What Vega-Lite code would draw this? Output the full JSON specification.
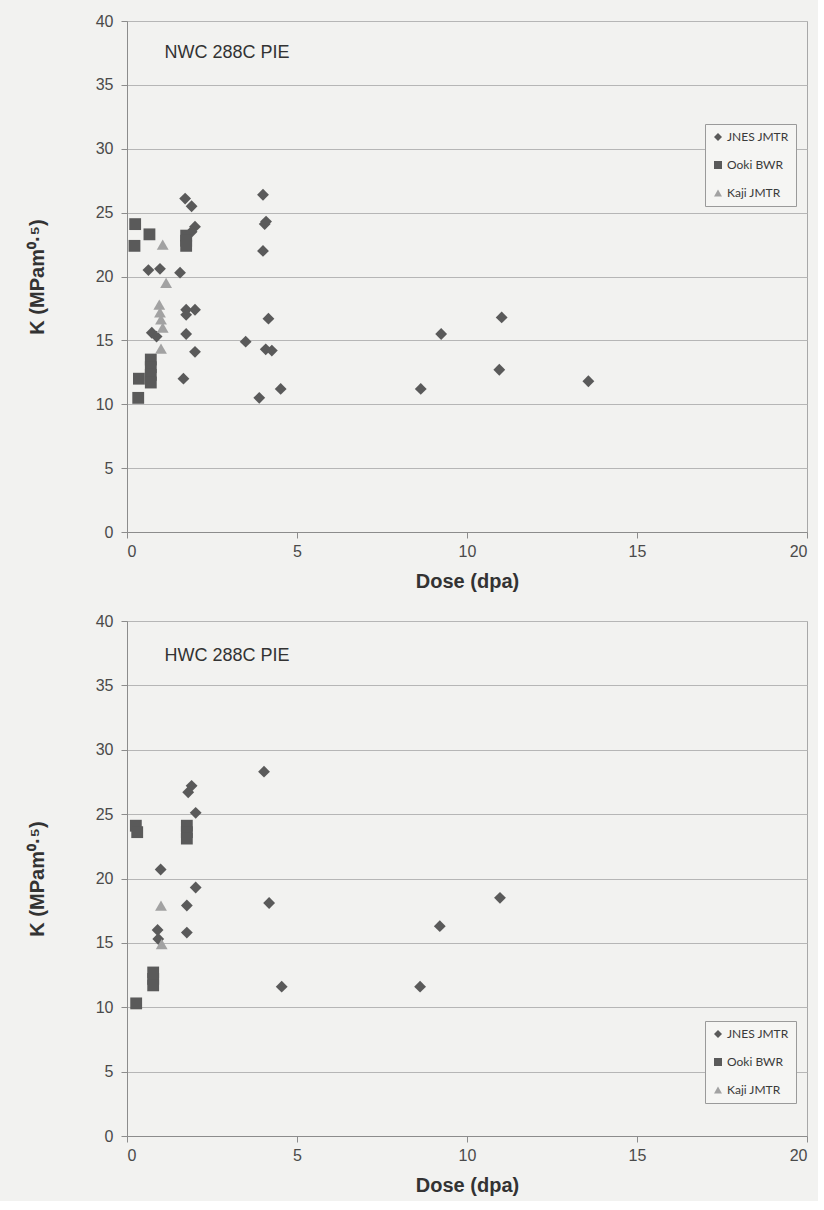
{
  "$schema": "https://vega.github.io/schema/vega-lite/v6.json",
  "background": "#f2f2f0",
  "padding": {"left": 26, "top": 12, "right": 10, "bottom": 5},
  "spacing": 20,
  "config": {
    "font": "Liberation Sans",
    "view": {"stroke": "#a8a8a8", "strokeWidth": 1},
    "axis": {
      "labelFont": "Liberation Sans", "labelFontSize": 16, "labelColor": "#4a4a4a",
      "titleFont": "Liberation Sans", "titleFontSize": 20, "titleFontWeight": "bold", "titleColor": "#333333",
      "domainColor": "#8c8c8c", "tickColor": "#8c8c8c", "gridColor": "#b6b6b6", "tickSize": 6
    },
    "legend": {
      "labelFont": "Lato", "labelFontSize": 12, "labelColor": "#3a3a3a",
      "strokeColor": "#9a9a9a", "fillColor": "#f5f5f3", "padding": 7, "rowPadding": 16,
      "symbolStrokeWidth": 0, "symbolSize": 64, "labelOffset": 3
    }
  },
  "datasets": {
    "nwc": [
      {"series": "JNES JMTR", "dose": 1.71, "k": 26.1},
      {"series": "JNES JMTR", "dose": 1.9, "k": 25.5},
      {"series": "JNES JMTR", "dose": 4.0, "k": 26.4},
      {"series": "JNES JMTR", "dose": 2.0, "k": 23.9},
      {"series": "JNES JMTR", "dose": 1.9, "k": 23.5},
      {"series": "JNES JMTR", "dose": 4.09, "k": 24.3},
      {"series": "JNES JMTR", "dose": 4.05, "k": 24.1},
      {"series": "JNES JMTR", "dose": 4.0, "k": 22.0},
      {"series": "JNES JMTR", "dose": 0.63, "k": 20.5},
      {"series": "JNES JMTR", "dose": 0.97, "k": 20.6},
      {"series": "JNES JMTR", "dose": 1.56, "k": 20.3},
      {"series": "JNES JMTR", "dose": 1.74, "k": 17.4},
      {"series": "JNES JMTR", "dose": 2.0, "k": 17.4},
      {"series": "JNES JMTR", "dose": 1.74, "k": 17.0},
      {"series": "JNES JMTR", "dose": 4.16, "k": 16.7},
      {"series": "JNES JMTR", "dose": 0.73, "k": 15.6},
      {"series": "JNES JMTR", "dose": 0.87, "k": 15.3},
      {"series": "JNES JMTR", "dose": 1.74, "k": 15.5},
      {"series": "JNES JMTR", "dose": 3.49, "k": 14.9},
      {"series": "JNES JMTR", "dose": 2.0, "k": 14.1},
      {"series": "JNES JMTR", "dose": 4.08, "k": 14.3},
      {"series": "JNES JMTR", "dose": 4.26, "k": 14.2},
      {"series": "JNES JMTR", "dose": 1.66, "k": 12.0},
      {"series": "JNES JMTR", "dose": 4.52, "k": 11.2},
      {"series": "JNES JMTR", "dose": 3.89, "k": 10.5},
      {"series": "JNES JMTR", "dose": 11.02, "k": 16.8},
      {"series": "JNES JMTR", "dose": 9.24, "k": 15.5},
      {"series": "JNES JMTR", "dose": 10.95, "k": 12.7},
      {"series": "JNES JMTR", "dose": 8.64, "k": 11.2},
      {"series": "JNES JMTR", "dose": 13.57, "k": 11.8},
      {"series": "Ooki BWR", "dose": 0.24, "k": 24.1},
      {"series": "Ooki BWR", "dose": 0.22, "k": 22.4},
      {"series": "Ooki BWR", "dose": 0.66, "k": 23.3},
      {"series": "Ooki BWR", "dose": 1.74, "k": 23.2},
      {"series": "Ooki BWR", "dose": 1.74, "k": 22.8},
      {"series": "Ooki BWR", "dose": 1.74, "k": 22.4},
      {"series": "Ooki BWR", "dose": 0.7, "k": 13.5},
      {"series": "Ooki BWR", "dose": 0.7, "k": 12.9},
      {"series": "Ooki BWR", "dose": 0.7, "k": 12.3},
      {"series": "Ooki BWR", "dose": 0.7, "k": 11.7},
      {"series": "Ooki BWR", "dose": 0.35, "k": 12.0},
      {"series": "Ooki BWR", "dose": 0.33, "k": 10.5},
      {"series": "Kaji JMTR", "dose": 1.05, "k": 22.5},
      {"series": "Kaji JMTR", "dose": 1.15, "k": 19.5},
      {"series": "Kaji JMTR", "dose": 0.95, "k": 17.8},
      {"series": "Kaji JMTR", "dose": 0.97, "k": 17.2},
      {"series": "Kaji JMTR", "dose": 1.0, "k": 16.65},
      {"series": "Kaji JMTR", "dose": 1.05, "k": 16.0},
      {"series": "Kaji JMTR", "dose": 1.0, "k": 14.35}
    ],
    "hwc": [
      {"series": "JNES JMTR", "dose": 4.03, "k": 28.3},
      {"series": "JNES JMTR", "dose": 1.9, "k": 27.2},
      {"series": "JNES JMTR", "dose": 1.8, "k": 26.7},
      {"series": "JNES JMTR", "dose": 2.02, "k": 25.1},
      {"series": "JNES JMTR", "dose": 0.99, "k": 20.7},
      {"series": "JNES JMTR", "dose": 2.02, "k": 19.3},
      {"series": "JNES JMTR", "dose": 1.76, "k": 17.9},
      {"series": "JNES JMTR", "dose": 4.18, "k": 18.1},
      {"series": "JNES JMTR", "dose": 0.9, "k": 16.0},
      {"series": "JNES JMTR", "dose": 0.92, "k": 15.3},
      {"series": "JNES JMTR", "dose": 1.76, "k": 15.8},
      {"series": "JNES JMTR", "dose": 4.55, "k": 11.6},
      {"series": "JNES JMTR", "dose": 9.2, "k": 16.3},
      {"series": "JNES JMTR", "dose": 10.97, "k": 18.5},
      {"series": "JNES JMTR", "dose": 8.62, "k": 11.6},
      {"series": "Ooki BWR", "dose": 0.26, "k": 24.1},
      {"series": "Ooki BWR", "dose": 0.3, "k": 23.6},
      {"series": "Ooki BWR", "dose": 1.76, "k": 24.1},
      {"series": "Ooki BWR", "dose": 1.76, "k": 23.6},
      {"series": "Ooki BWR", "dose": 1.76, "k": 23.1},
      {"series": "Ooki BWR", "dose": 0.77, "k": 12.7},
      {"series": "Ooki BWR", "dose": 0.77, "k": 12.2},
      {"series": "Ooki BWR", "dose": 0.77, "k": 11.7},
      {"series": "Ooki BWR", "dose": 0.27, "k": 10.3},
      {"series": "Kaji JMTR", "dose": 1.0, "k": 17.9},
      {"series": "Kaji JMTR", "dose": 1.02, "k": 14.9}
    ]
  },
  "vconcat": [
    {
      "width": 680, "height": 511,
      "layer": [
        {
          "data": {"values": [{"label": "NWC 288C PIE"}]},
          "mark": {"type": "text", "align": "left", "baseline": "middle", "fontSize": 18, "color": "#333333", "font": "Liberation Sans"},
          "encoding": {"x": {"datum": 1.1}, "y": {"datum": 37.5}, "text": {"field": "label"}}
        },
        {
          "data": {"name": "nwc"},
          "mark": {"type": "point", "filled": true, "opacity": 1, "strokeWidth": 0, "size": 140},
          "encoding": {
            "x": {"field": "dose", "type": "quantitative", "scale": {"domain": [0, 20]},
                  "axis": {"title": "Dose (dpa)", "values": [0, 5, 10, 15, 20], "grid": false, "labelPadding": 5, "titlePadding": 12}},
            "y": {"field": "k", "type": "quantitative", "scale": {"domain": [0, 40]},
                  "axis": {"title": "K (MPam\u2070\u00b7\u2075)", "values": [0, 5, 10, 15, 20, 25, 30, 35, 40], "grid": true, "labelPadding": 8, "titlePadding": 48}},
            "shape": {"field": "series", "type": "nominal", "scale": {"domain": ["JNES JMTR", "Ooki BWR", "Kaji JMTR"], "range": ["diamond", "square", "triangle-up"]},
                      "legend": {"title": null, "orient": "none", "legendX": 578, "legendY": 103}},
            "color": {"field": "series", "type": "nominal", "scale": {"domain": ["JNES JMTR", "Ooki BWR", "Kaji JMTR"], "range": ["#5a5a5a", "#5a5a5a", "#a2a2a2"]},
                      "legend": {"title": null, "orient": "none", "legendX": 578, "legendY": 103}}
          }
        }
      ]
    },
    {
      "width": 680, "height": 515,
      "layer": [
        {
          "data": {"values": [{"label": "HWC 288C PIE"}]},
          "mark": {"type": "text", "align": "left", "baseline": "middle", "fontSize": 18, "color": "#333333", "font": "Liberation Sans"},
          "encoding": {"x": {"datum": 1.1}, "y": {"datum": 37.3}, "text": {"field": "label"}}
        },
        {
          "data": {"name": "hwc"},
          "mark": {"type": "point", "filled": true, "opacity": 1, "strokeWidth": 0, "size": 140},
          "encoding": {
            "x": {"field": "dose", "type": "quantitative", "scale": {"domain": [0, 20]},
                  "axis": {"title": "Dose (dpa)", "values": [0, 5, 10, 15, 20], "grid": false, "labelPadding": 5, "titlePadding": 12}},
            "y": {"field": "k", "type": "quantitative", "scale": {"domain": [0, 40]},
                  "axis": {"title": "K (MPam\u2070\u00b7\u2075)", "values": [0, 5, 10, 15, 20, 25, 30, 35, 40], "grid": true, "labelPadding": 8, "titlePadding": 48}},
            "shape": {"field": "series", "type": "nominal", "scale": {"domain": ["JNES JMTR", "Ooki BWR", "Kaji JMTR"], "range": ["diamond", "square", "triangle-up"]},
                      "legend": {"title": null, "orient": "none", "legendX": 578, "legendY": 400}},
            "color": {"field": "series", "type": "nominal", "scale": {"domain": ["JNES JMTR", "Ooki BWR", "Kaji JMTR"], "range": ["#5a5a5a", "#5a5a5a", "#a2a2a2"]},
                      "legend": {"title": null, "orient": "none", "legendX": 578, "legendY": 400}}
          }
        }
      ]
    }
  ],
  "resolve": {"scale": {"shape": "independent", "color": "independent"}, "legend": {"shape": "independent", "color": "independent"}}
}
